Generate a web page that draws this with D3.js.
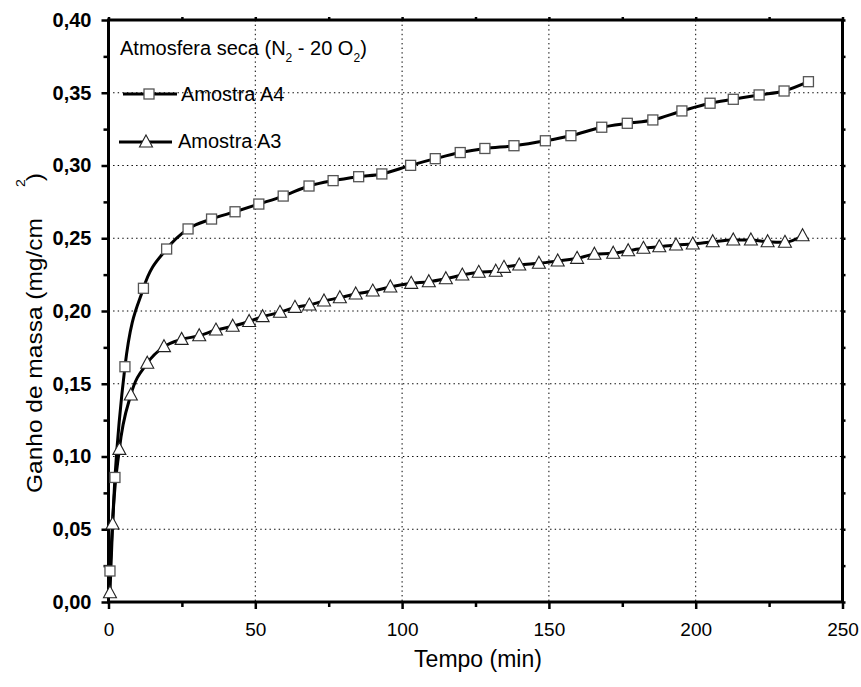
<!DOCTYPE html>
<html>
<head>
<meta charset="utf-8">
<script src="https://cdn.jsdelivr.net/npm/d3@7"></script>
<style>
  body { margin: 0; background: #fff; }
  svg text { font-family: "Liberation Sans", Arial, sans-serif; fill: #000; }
</style>
</head>
<body>
<svg id="chart" width="861" height="687"></svg>
<script>
// data: time (min) and mass gain (mg/cm2)
const a4Time = [0.5, 2.2, 5.6, 11.9, 19.8, 27.1, 35.1, 43.1, 51.2, 59.5, 68.3, 76.5, 85.2, 93.1, 102.9,
  111.3, 119.8, 128.2, 138.1, 148.8, 157.5, 168.0, 176.7, 185.4, 195.3, 204.9, 212.8, 221.6, 230.1, 238.4];
const a4Gain = [0.0213, 0.0856, 0.1617, 0.2156, 0.2426, 0.2564, 0.2632, 0.2682, 0.2735, 0.2790, 0.2859,
  0.2896, 0.2923, 0.2942, 0.3001, 0.3047, 0.3089, 0.3117, 0.3136, 0.3170, 0.3205, 0.3263, 0.3290, 0.3313,
  0.3375, 0.3428, 0.3455, 0.3485, 0.3512, 0.3576];

const a3Time = [0.5, 1.4, 3.7, 7.6, 13.2, 18.9, 24.9, 30.9, 36.6, 42.3, 47.9, 52.5, 58.4, 63.5, 68.4, 73.4,
  78.8, 84.2, 90.0, 96.0, 103.1, 109.1, 114.9, 120.5, 126.1, 131.9, 134.7, 139.9, 146.6, 153.0, 159.6,
  165.5, 171.9, 177.0, 182.2, 187.6, 193.3, 199.0, 205.8, 212.8, 218.8, 224.5, 230.4, 236.4];
const a3Gain = [0.0064, 0.0536, 0.1049, 0.1423, 0.1641, 0.1755, 0.1805, 0.1830, 0.1869, 0.1895, 0.1928,
  0.1961, 0.1991, 0.2025, 0.2041, 0.2069, 0.2091, 0.2117, 0.2137, 0.2165, 0.2190, 0.2201, 0.2222, 0.2247,
  0.2266, 0.2273, 0.2300, 0.2316, 0.2328, 0.2344, 0.2362, 0.2390, 0.2397, 0.2414, 0.2431, 0.2442, 0.2454,
  0.2460, 0.2476, 0.2488, 0.2488, 0.2476, 0.2472, 0.2517];

const xTicks = [0, 50, 100, 150, 200, 250];
const xMinor = [25, 75, 125, 175, 225];
const yTicks = [0, 0.05, 0.10, 0.15, 0.20, 0.25, 0.30, 0.35, 0.40];
const yMinor = [0.025, 0.075, 0.125, 0.175, 0.225, 0.275, 0.325, 0.375];
const yLabels = ["0,00", "0,05", "0,10", "0,15", "0,20", "0,25", "0,30", "0,35", "0,40"];

const a4 = a4Time.map((t, i) => ({t: t, v: a4Gain[i]}));
const a3 = a3Time.map((t, i) => ({t: t, v: a3Gain[i]}));

const svg = d3.select("#chart");
const pLeft = 108.5, pRight = 842.5, pTop = 20, pBottom = 602;

const x = d3.scaleLinear().domain([0, 250]).range([pLeft, pRight]);
const y = d3.scaleLinear().domain([0, 0.4]).range([pBottom, pTop]);

// dotted grid
const grid = svg.append("g").attr("stroke", "#000").attr("stroke-width", 1).attr("stroke-dasharray", "1.4,3.2");
grid.selectAll(".gx").data(xTicks.slice(1, -1)).enter().append("line")
  .attr("x1", d => x(d)).attr("x2", d => x(d)).attr("y1", pTop).attr("y2", pBottom);
grid.selectAll(".gy").data(yTicks.slice(1, -1)).enter().append("line")
  .attr("x1", pLeft).attr("x2", pRight).attr("y1", d => y(d)).attr("y2", d => y(d));

// axes
function styleAxis(g) {
  g.select(".domain").remove();
  g.selectAll(".tick line").attr("stroke", "#000").attr("stroke-width", 2.5);
}
svg.append("g").attr("transform", `translate(0,${pBottom})`)
  .call(d3.axisBottom(x).tickValues(xTicks).tickSize(7).tickPadding(14).tickFormat(d3.format("d")))
  .call(styleAxis)
  .call(g => g.selectAll("text").attr("font-size", 19).attr("font-family", "Liberation Sans, Arial, sans-serif"));
svg.append("g").attr("transform", `translate(0,${pBottom})`)
  .call(d3.axisBottom(x).tickValues(xMinor).tickSize(5).tickFormat(""))
  .call(styleAxis);
svg.append("g").attr("transform", `translate(${pLeft},0)`)
  .call(d3.axisLeft(y).tickValues(yTicks).tickSize(7).tickPadding(10).tickFormat((d, i) => yLabels[i]))
  .call(styleAxis)
  .call(g => g.selectAll("text").attr("font-size", 20).attr("font-weight", "bold")
    .attr("font-family", "Liberation Sans, Arial, sans-serif"));
svg.append("g").attr("transform", `translate(${pLeft},0)`)
  .call(d3.axisLeft(y).tickValues(yMinor).tickSize(5).tickFormat(""))
  .call(styleAxis);
svg.append("g").attr("transform", `translate(${pRight},0)`)
  .call(d3.axisRight(y).tickValues(yTicks.concat(yMinor)).tickSize(3).tickFormat(""))
  .call(styleAxis);
svg.append("g").attr("transform", `translate(0,${pTop})`)
  .call(d3.axisTop(x).tickValues(xTicks.concat(xMinor)).tickSize(3).tickFormat(""))
  .call(styleAxis);

// frame
svg.append("rect").attr("x", pLeft).attr("y", pTop).attr("width", pRight - pLeft).attr("height", pBottom - pTop)
  .attr("fill", "none").attr("stroke", "#000").attr("stroke-width", 3);

// lines
const line = d3.line().x(d => x(d.t)).y(d => y(d.v)).curve(d3.curveMonotoneX);
[a4, a3].forEach(s => {
  svg.append("path").datum(s).attr("d", line)
    .attr("fill", "none").attr("stroke", "#000").attr("stroke-width", 3).attr("stroke-linejoin", "round");
});

// markers
const sq = 10;
const triPath = "M0,-7L6.5,5L-6.5,5Z";
function squares(g, data) {
  g.selectAll("rect.m").data(data).enter().append("rect").attr("class", "m")
    .attr("x", d => x(d.t) - sq / 2).attr("y", d => y(d.v) - sq / 2)
    .attr("width", sq).attr("height", sq)
    .attr("fill", "#fff").attr("stroke", "#555").attr("stroke-width", 1.3);
}
function triangles(g, data) {
  g.selectAll("path.m").data(data).enter().append("path").attr("class", "m")
    .attr("transform", d => `translate(${x(d.t)},${y(d.v)})`)
    .attr("d", triPath).attr("fill", "#fff").attr("stroke", "#222").attr("stroke-width", 1.1);
}
triangles(svg.append("g"), a3);
squares(svg.append("g"), a4);

// legend
const leg = svg.append("g");
const title = leg.append("text").attr("x", 120).attr("y", 55).attr("font-size", 20);
title.append("tspan").text("Atmosfera seca (N");
title.append("tspan").attr("font-size", 12).attr("dy", 7).text("2");
title.append("tspan").attr("dy", -7).text(" - 20 O");
title.append("tspan").attr("font-size", 12).attr("dy", 7).text("2");
title.append("tspan").attr("dy", -7).text(")");

leg.append("line").attr("x1", 123).attr("x2", 177).attr("y1", 94).attr("y2", 94)
  .attr("stroke", "#000").attr("stroke-width", 3);
leg.append("rect").attr("x", 149 - sq / 2).attr("y", 94 - sq / 2).attr("width", sq).attr("height", sq)
  .attr("fill", "#fff").attr("stroke", "#555").attr("stroke-width", 1.3);
leg.append("text").attr("x", 181).attr("y", 101).attr("font-size", 20).text("Amostra A4");

leg.append("line").attr("x1", 119).attr("x2", 172).attr("y1", 142).attr("y2", 142)
  .attr("stroke", "#000").attr("stroke-width", 3);
leg.append("path").attr("transform", "translate(146,142)").attr("d", triPath)
  .attr("fill", "#fff").attr("stroke", "#222").attr("stroke-width", 1.1);
leg.append("text").attr("x", 178).attr("y", 148).attr("font-size", 20).text("Amostra A3");

// axis titles
svg.append("text").attr("x", 478).attr("y", 667).attr("text-anchor", "middle")
  .attr("font-size", 23).text("Tempo (min)");

const yt = svg.append("text").attr("transform", "translate(42,493) rotate(-90) scale(1,0.9)").attr("font-size", 24.5);
yt.append("tspan").text("Ganho de massa (mg/cm");
yt.append("tspan").attr("font-size", 14).attr("dx", 31).attr("dy", -19).text("2");
yt.append("tspan").attr("dx", -2).attr("dy", 19).text(")");
</script>
</body>
</html>
